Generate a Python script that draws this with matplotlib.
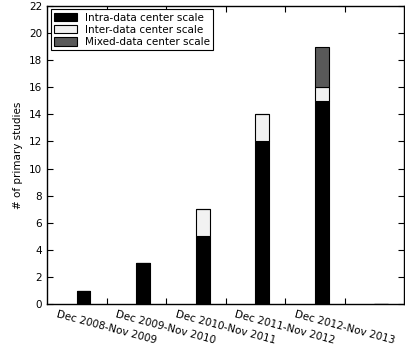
import numpy as np
import matplotlib
matplotlib.use('Agg')
import matplotlib.pyplot as plt

periods = ['Dec 2008-Nov 2009', 'Dec 2009-Nov 2010', 'Dec 2010-Nov 2011',
           'Dec 2011-Nov 2012', 'Dec 2012-Nov 2013']
intra = [1, 3, 5, 12, 15, 0]
inter = [0, 0, 2, 2, 1, 0]
mixed = [0, 0, 0, 0, 3, 0]

plt.rcParams['font.family'] = 'DejaVu Sans'

fig = plt.figure(figsize=(4.05, 3.44), dpi=100)
ax = fig.add_axes([0.116, 0.116, 0.882, 0.867])

x = np.arange(len(intra)) + 0.5
w = 0.23
intra_a = np.array(intra)
inter_a = np.array(inter)
mixed_a = np.array(mixed)

ax.bar(x, intra_a, w, align='edge', color='black', edgecolor='black',
       linewidth=0.8, label='Intra-data center scale')
ax.bar(x, inter_a, w, bottom=intra_a, align='edge', color='#f2f2f2',
       edgecolor='black', linewidth=0.8, label='Inter-data center scale')
ax.bar(x, mixed_a, w, bottom=intra_a + inter_a, align='edge', color='#595959',
       edgecolor='black', linewidth=0.8, label='Mixed-data center scale')

ax.set_xlim(0, 6)
ax.set_ylim(0, 22)
ax.set_yticks(range(0, 23, 2))
ax.set_xticks(range(1, 6))
ax.set_xticklabels(periods, rotation=-15, ha='center', fontsize=7.5)
ax.tick_params(axis='y', labelsize=7.5)
ax.tick_params(direction='in', top=True, right=True, length=4, width=0.8)
ax.set_ylabel('# of primary studies', fontsize=7.5)
for s in ax.spines.values():
    s.set_linewidth(1.0)

leg = ax.legend(loc='upper left', fontsize=7.5, fancybox=False,
                framealpha=1, edgecolor='black', borderaxespad=0.35,
                handlelength=2.2, handleheight=0.9, labelspacing=0.2,
                borderpad=0.3)
leg.get_frame().set_linewidth(0.8)

fig.savefig('out.png', dpi=100)
